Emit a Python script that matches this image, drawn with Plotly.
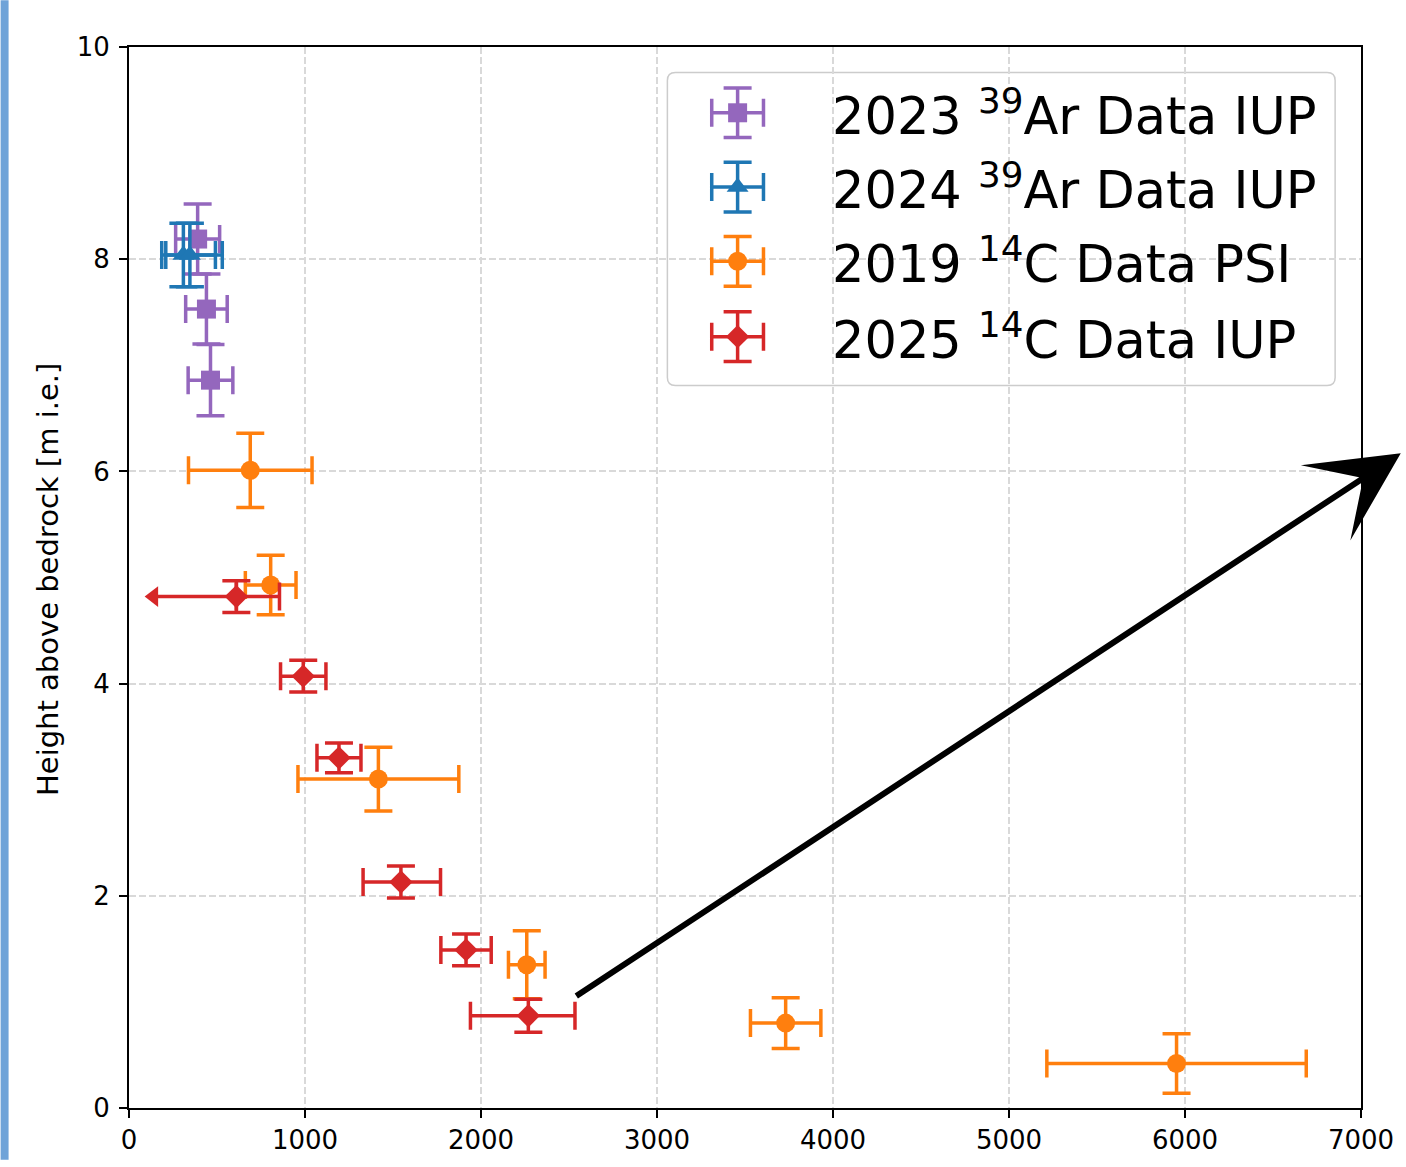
import plotly.graph_objects as go

# ---------------- data ----------------
ar23_x = [390, 440, 463]
ar23_y = [8.19, 7.53, 6.86]
ar23_xerr = [125, 118, 127]
ar23_yerr = [0.33, 0.33, 0.335]

ar24_x = [309, 346]
ar24_y = [8.04, 8.04]
ar24_xerr_plus = [182, 184]
ar24_xerr_minus = [123, 137]
ar24_yerr = [0.30, 0.30]

c19_x = [689, 805, 1417, 2260, 3731, 5952]
c19_y = [6.01, 4.93, 3.10, 1.35, 0.80, 0.42]
c19_xerr = [351, 144, 457, 104, 200, 737]
c19_yerr = [0.35, 0.28, 0.30, 0.32, 0.24, 0.28]

# first 2025 point is an upper limit (arrow to the left)
c25_x = [610, 990, 1193, 1545, 1915, 2269]
c25_y = [4.82, 4.07, 3.30, 2.13, 1.49, 0.87]
c25_xerr_plus = [245, 129, 125, 225, 143, 265]
c25_xerr_minus = [0, 129, 125, 215, 143, 329]
c25_yerr = [0.15, 0.15, 0.14, 0.15, 0.15, 0.156]
c25_limit_len = 470

# annotation arrow (data coordinates)
arrow_tail = (2533, 1.046)
arrow_head = (7226, 6.17)

x_ticks = [0, 1000, 2000, 3000, 4000, 5000, 6000, 7000]
y_ticks = [0, 2, 4, 6, 8, 10]

series_labels = ["2023 <sup>39</sup>Ar Data IUP", "2024 <sup>39</sup>Ar Data IUP",
                 "2019 <sup>14</sup>C Data PSI", "2025 <sup>14</sup>C Data IUP"]

PURPLE = "#9467bd"
BLUE = "#1f77b4"
ORANGE = "#ff7f0e"
RED = "#d62728"
FONT = "DejaVu Sans"

EB_T = 3.5
EB_W = 14

ML, MR, MT, MB = 129, 39, 47, 52
W, H = 1406, 1167
PW, PH = W - ML - MR, H - MT - MB


def err(arr, minus=None):
    d = dict(type="data", array=arr, visible=True, thickness=EB_T, width=EB_W)
    if minus is not None:
        d.update(symmetric=False, arrayminus=minus)
    return d


fig = go.Figure()

fig.add_trace(go.Scatter(
    x=ar23_x, y=ar23_y, mode="markers",
    marker=dict(symbol="square", size=19, color=PURPLE),
    error_x=dict(err(ar23_xerr), color=PURPLE), error_y=dict(err(ar23_yerr), color=PURPLE),
    showlegend=False))

fig.add_trace(go.Scatter(
    x=ar24_x, y=ar24_y, mode="markers",
    marker=dict(symbol="triangle-up", size=19, color=BLUE),
    error_x=dict(err(ar24_xerr_plus, ar24_xerr_minus), color=BLUE),
    error_y=dict(err(ar24_yerr), color=BLUE),
    showlegend=False))

fig.add_trace(go.Scatter(
    x=c19_x, y=c19_y, mode="markers",
    marker=dict(symbol="circle", size=19, color=ORANGE),
    error_x=dict(err(c19_xerr), color=ORANGE), error_y=dict(err(c19_yerr), color=ORANGE),
    showlegend=False))

# upper-limit arrow line for first red point
fig.add_trace(go.Scatter(
    x=[c25_x[0], c25_x[0] - c25_limit_len], y=[c25_y[0], c25_y[0]],
    mode="lines+markers", line=dict(color=RED, width=EB_T),
    marker=dict(symbol=["circle", "triangle-left"], size=[0, 18], color=RED,
                opacity=1, line=dict(width=0)),
    showlegend=False))

fig.add_trace(go.Scatter(
    x=c25_x, y=c25_y, mode="markers",
    marker=dict(symbol="diamond", size=18, color=RED),
    error_x=dict(err(c25_xerr_plus, c25_xerr_minus), color=RED),
    error_y=dict(err(c25_yerr), color=RED),
    showlegend=False))

# ---------------- manual legend (overlay axes in [0,1]) ----------------
leg_colors = [PURPLE, BLUE, ORANGE, RED]
leg_symbols = ["square", "triangle-up", "circle", "diamond"]
leg_sizes = [19, 19, 19, 18]
leg_y = [0.938, 0.868, 0.798, 0.727]
leg_hx = 0.494
for c, s, sz, ly in zip(leg_colors, leg_symbols, leg_sizes, leg_y):
    fig.add_trace(go.Scatter(
        x=[leg_hx], y=[ly], xaxis="x2", yaxis="y2", mode="markers",
        marker=dict(symbol=s, size=sz, color=c),
        error_x=dict(type="constant", value=26 / PW, color=c, thickness=EB_T, width=EB_W),
        error_y=dict(type="constant", value=25 / PH, color=c, thickness=EB_T, width=EB_W),
        showlegend=False, hoverinfo="skip"))

annotations = []
for lbl, ly in zip(series_labels, leg_y):
    annotations.append(dict(
        text=lbl, xref="paper", yref="paper", x=0.569, y=ly,
        xanchor="left", yanchor="middle", showarrow=False,
        font=dict(family=FONT, size=51, color="black")))

# y axis title
annotations.append(dict(
    text="Height above bedrock [m i.e.]", xref="paper", yref="paper",
    x=-(ML - 47) / PW, y=0.498, textangle=-90, showarrow=False,
    xanchor="center", yanchor="middle",
    font=dict(family=FONT, size=29, color="black")))

# big arrow
annotations.append(dict(
    text="", x=arrow_head[0], y=arrow_head[1], xref="x", yref="y",
    ax=arrow_tail[0], ay=arrow_tail[1], axref="x", ayref="y",
    showarrow=True, arrowhead=3, arrowsize=2.5, arrowwidth=6,
    arrowcolor="black", standoff=0, startstandoff=0))

# rounded legend frame (paper coordinates)
lx0, lx1, ly0, ly1 = 0.437, 0.979, 0.681, 0.976
rx, ry = 8 / PW, 8 / PH
frame_path = (
    f"M {lx0 + rx},{ly1} L {lx1 - rx},{ly1} Q {lx1},{ly1} {lx1},{ly1 - ry} "
    f"L {lx1},{ly0 + ry} Q {lx1},{ly0} {lx1 - rx},{ly0} "
    f"L {lx0 + rx},{ly0} Q {lx0},{ly0} {lx0},{ly0 + ry} "
    f"L {lx0},{ly1 - ry} Q {lx0},{ly1} {lx0 + rx},{ly1} Z"
)

shapes = [
    dict(type="path", xref="paper", yref="paper", path=frame_path,
         line=dict(color="#cccccc", width=1.5),
         fillcolor="rgba(255,255,255,0.8)", layer="between"),
    # blue strip at left edge
    dict(type="rect", xref="paper", yref="paper",
         x0=-ML / PW, x1=-(ML - 8) / PW, y0=-MB / PH, y1=(PH + MT) / PH,
         line=dict(width=0), fillcolor="#6fa3d8", layer="above"),
]

axis_common = dict(
    showline=True, linecolor="black", linewidth=2, mirror=True,
    ticks="outside", ticklen=8, tickwidth=2, tickcolor="black",
    showgrid=True, gridcolor="#d9d9d9", gridwidth=1.5, griddash="7px,3px",
    zeroline=False, tickfont=dict(family=FONT, size=26, color="black"),
    ticklabeloverflow="allow",
)

fig.update_layout(
    width=W, height=H,
    margin=dict(l=ML, r=MR, t=MT, b=MB),
    paper_bgcolor="white", plot_bgcolor="white",
    xaxis=dict(axis_common, range=[0, 7000], tickvals=x_ticks,
               ticktext=[str(v) for v in x_ticks]),
    yaxis=dict(axis_common, range=[0, 10], tickvals=y_ticks,
               ticktext=[str(v) for v in y_ticks], ticklabelstandoff=4),
    xaxis2=dict(overlaying="x", range=[0, 1], visible=False, fixedrange=True),
    yaxis2=dict(overlaying="y", range=[0, 1], visible=False, fixedrange=True),
    annotations=annotations, shapes=shapes,
    showlegend=False,
    font=dict(family=FONT),
)

fig.write_html(
    "out.html",
    config={"displayModeBar": False},
    post_script="document.body.style.margin='0';document.body.style.padding='0';"
                "document.body.style.overflow='hidden';",
)
